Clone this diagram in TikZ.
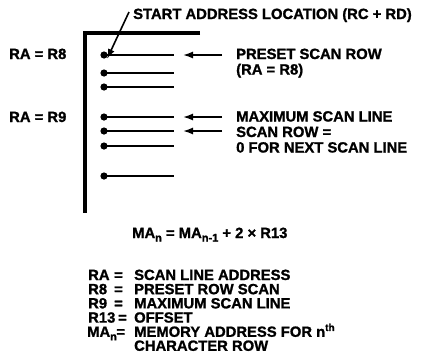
\documentclass[tikz,border=0pt]{standalone}
\usepackage{fontspec}
\setmainfont{Liberation Sans}[BoldFeatures={FakeBold=1.2}]
\usetikzlibrary{arrows.meta}
\newcommand{\lowsub}[1]{\raisebox{-0.45ex}{\fontsize{11}{11}\selectfont #1}}
\newcommand{\highsup}[1]{\raisebox{0.75ex}{\fontsize{10}{10}\selectfont #1}}
\tikzset{
  lbl/.style={inner sep=0pt, anchor=base west, font=\fontsize{14.8}{15.5}\selectfont\bfseries, align=left},
  rowline/.style={line width=1.5pt},
  ptr/.style={line width=1.6pt, -{Latex[length=10pt, width=7pt]}},
}

\begin{document}
\begin{tikzpicture}[x=1pt, y=-1pt]
    \useasboundingbox (0,0) rectangle (426,354);
    % frame of the character row
    \draw[line width=3.8pt] (200,33) -- (85,33) -- (85,213);
    % scan lines
    \foreach \r/\yy in {1/55, 2/73, 3/87, 4/117, 5/131, 6/146, 7/176} {
        \coordinate (dot\r) at (104,\yy);
        \coordinate (end\r) at (174,\yy);
        \draw[rowline] (dot\r) -- (end\r);
        \fill (dot\r) circle (3.6pt);
    }
    % left labels
    \node[lbl] (ra8) at (9,59) {RA = R8};
    \node[lbl] (ra9) at (9,122) {RA = R9};
    % start address
    \node[lbl] (start) at (133,19) {START ADDRESS LOCATION (RC + RD)};
    \coordinate (starttail) at (129,12);
    \draw[ptr] (starttail) -- ([xshift=3pt, yshift=-4pt]dot1);
    % right labels
    \node[lbl] (preset) at (236,74.5) {PRESET SCAN ROW\\(RA = R8)};
    \node[lbl] (maxline) at (236,152.5) {MAXIMUM SCAN LINE\\SCAN ROW =\\0 FOR NEXT SCAN LINE};
    \coordinate (tail1) at (222,55);
    \coordinate (tail4) at (222,117);
    \coordinate (tail5) at (222,131);
    \draw[ptr] (tail1) -- ([xshift=9pt]end1);
    \draw[ptr] (tail4) -- ([xshift=9pt]end4);
    \draw[ptr] (tail5) -- ([xshift=9pt]end5);
    % formula
    \node[lbl] (formula) at (132,238) {MA\lowsub{n} = MA\lowsub{n-1} + 2 × R13};
    % legend
    \foreach \i/\key/\txt/\eqx in {0/RA/SCAN LINE ADDRESS/114, 1/R8/PRESET ROW SCAN/114, 2/R9/MAXIMUM SCAN LINE/114, 3/R13/OFFSET/118} {
        \node[lbl] (key\i) at (88,280+14.2*\i) {\key};
        \node[lbl] (eq\i) at (\eqx,280+14.2*\i) {=};
        \node[lbl] (txt\i) at (134,280+14.2*\i) {\txt};
    }
    \node[lbl] (key4) at (87,336.8) {MA\lowsub{n}\kern-0.5pt=};
    \node[lbl] (txt4) at (134,336.8) {MEMORY ADDRESS FOR n\highsup{th}};
    \node[lbl] (txt5) at (134,350.8) {CHARACTER ROW};
\end{tikzpicture}
\end{document}
